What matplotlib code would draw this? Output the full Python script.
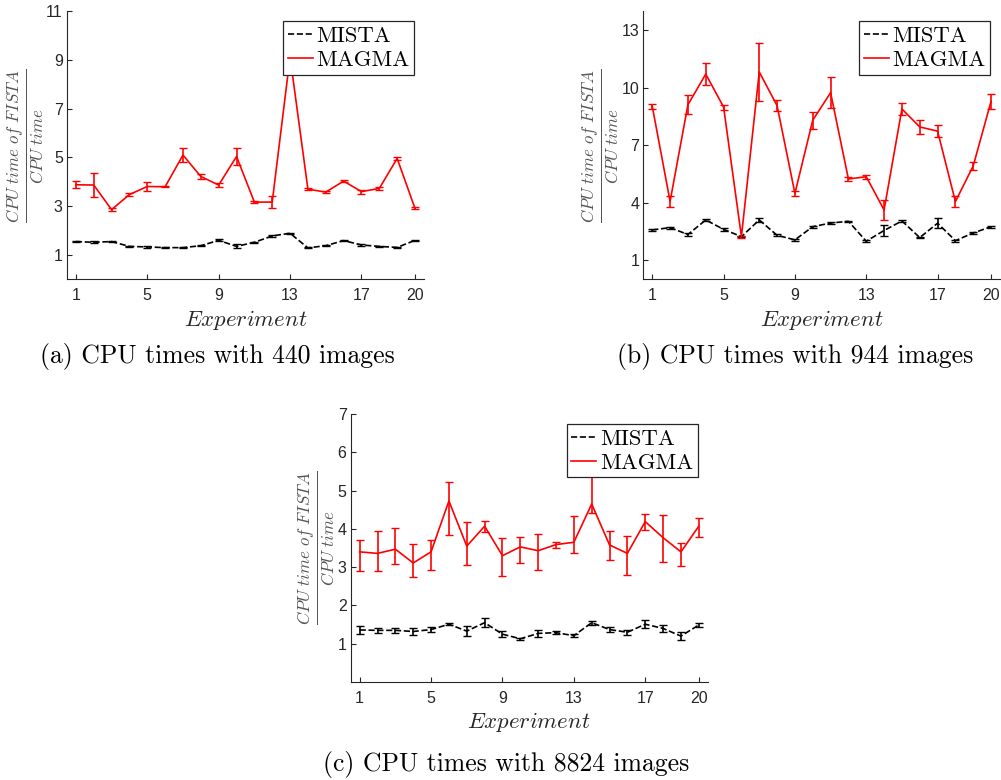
import matplotlib
matplotlib.use("Agg")
import matplotlib.pyplot as plt
from matplotlib.lines import Line2D

plt.rcParams['mathtext.fontset'] = 'cm'
plt.rcParams['font.family'] = ['Liberation Sans', 'DejaVu Sans']

x = list(range(1, 21))
xticks = [1, 5, 9, 13, 17, 20]

# (a) 440 images
mista_a = [1.55, 1.52, 1.55, 1.35, 1.33, 1.30, 1.30, 1.38, 1.60, 1.35,
           1.52, 1.78, 1.89, 1.29, 1.38, 1.59, 1.41, 1.35, 1.31, 1.60]
mista_a_err = [0.03, 0.04, 0.03, 0.03, 0.04, 0.02, 0.02, 0.03, 0.04, 0.08,
               0.03, 0.05, 0.03, 0.02, 0.03, 0.03, 0.03, 0.03, 0.02, 0.03]
magma_a = [3.88, 3.87, 2.86, 3.48, 3.81, 3.80, 5.10, 4.22, 3.87, 5.04,
           3.17, 3.17, 9.13, 3.70, 3.58, 4.03, 3.60, 3.73, 4.96, 2.91]
magma_a_err = [0.15, 0.50, 0.07, 0.07, 0.20, 0.03, 0.30, 0.12, 0.10, 0.34,
               0.03, 0.23, 0.13, 0.04, 0.05, 0.05, 0.08, 0.06, 0.05, 0.04]

# (b) 944 images
mista_b = [2.58, 2.70, 2.34, 3.10, 2.61, 2.23, 3.10, 2.30, 2.06, 2.75,
           2.94, 3.03, 1.99, 2.55, 3.05, 2.18, 2.93, 2.02, 2.42, 2.75]
mista_b_err = [0.05, 0.05, 0.08, 0.06, 0.08, 0.04, 0.08, 0.05, 0.04, 0.06,
               0.07, 0.04, 0.06, 0.28, 0.05, 0.04, 0.25, 0.05, 0.06, 0.06]
magma_b = [9.04, 4.07, 9.12, 10.72, 9.00, 2.23, 10.83, 9.07, 4.49, 8.31,
           9.75, 5.24, 5.36, 3.62, 8.90, 7.96, 7.74, 4.06, 5.93, 9.30]
magma_b_err = [0.14, 0.30, 0.50, 0.57, 0.13, 0.05, 1.50, 0.28, 0.12, 0.45,
               0.80, 0.08, 0.10, 0.50, 0.30, 0.35, 0.30, 0.27, 0.22, 0.40]

# (c) 8824 images
mista_c = [1.36, 1.35, 1.35, 1.32, 1.37, 1.51, 1.33, 1.55, 1.25, 1.13,
           1.27, 1.29, 1.21, 1.55, 1.37, 1.30, 1.51, 1.40, 1.20, 1.49]
mista_c_err = [0.10, 0.07, 0.06, 0.08, 0.07, 0.03, 0.13, 0.12, 0.07, 0.03,
               0.10, 0.03, 0.04, 0.05, 0.06, 0.06, 0.10, 0.10, 0.10, 0.05]
magma_c = [3.40, 3.36, 3.47, 3.11, 3.40, 4.73, 3.55, 4.07, 3.30, 3.53,
           3.43, 3.59, 3.65, 4.65, 3.58, 3.36, 4.19, 3.77, 3.40, 4.07]
magma_c_lo = [0.50, 0.46, 0.39, 0.36, 0.47, 0.88, 0.50, 0.14, 0.52, 0.41,
              0.51, 0.08, 0.29, 0.23, 0.39, 0.57, 0.22, 0.63, 0.36, 0.27]
magma_c_hi = [0.30, 0.58, 0.55, 0.49, 0.30, 0.50, 0.63, 0.14, 0.47, 0.27,
              0.44, 0.07, 0.68, 0.98, 0.37, 0.45, 0.19, 0.60, 0.24, 0.21]

panels = [
    ([0.0669, 0.6419, 0.3566, 0.3436], mista_a, mista_a_err, magma_a, magma_a_err,
     [1, 3, 5, 7, 9, 11], 11, "(a) CPU times with 440 images", (217, 357)),
    ([0.6427, 0.6419, 0.3563, 0.3436], mista_b, mista_b_err, magma_b, magma_b_err,
     [1, 4, 7, 10, 13], 14, "(b) CPU times with 944 images", (795, 357)),
    ([0.3504, 0.1256, 0.3566, 0.3436], mista_c, mista_c_err, magma_c, [magma_c_lo, magma_c_hi],
     [1, 2, 3, 4, 5, 6, 7], 7, "(c) CPU times with 8824 images", (506, 764)),
]

fig = plt.figure(figsize=(10.01, 7.8), dpi=100)
grey = '#262626'

handles = [Line2D([], [], color='black', linestyle='--', linewidth=1.2),
           Line2D([], [], color='red', linestyle='-', linewidth=1.2)]

for rect, mi, mi_err, ma, ma_err, yt, ytop, caption, cpos in panels:
    ax = fig.add_axes(rect)
    ax.errorbar(x, mi, yerr=mi_err, color='black', linestyle='--', linewidth=1.2,
                capsize=3, elinewidth=1.2)
    ax.errorbar(x, ma, yerr=ma_err, color='red', linestyle='-', linewidth=1.2,
                capsize=3, elinewidth=1.2)
    ax.set_xlim(0.5, 20.5)
    ax.set_ylim(0, ytop)
    ax.set_xticks(xticks)
    ax.set_yticks(yt)
    for s in ['top', 'right']:
        ax.spines[s].set_visible(False)
    for s in ['left', 'bottom']:
        ax.spines[s].set_color(grey)
        ax.spines[s].set_linewidth(0.8)
    ax.tick_params(direction='in', length=3.5, colors=grey, labelsize=11.5, width=0.8)
    ax.tick_params(axis='x', pad=6.5)
    ax.tick_params(axis='y', pad=3)
    ax.set_xlabel(r'$Experiment$', fontsize=16.4, color=grey, labelpad=3)
    ax.set_ylabel(r'$\frac{CPU\ time\ of\ FISTA}{CPU\ time}$', fontsize=17.5,
                  color='#555555', labelpad=1)
    leg = ax.legend(handles, ['MISTA', 'MAGMA'], loc='upper right',
                    prop={'family': 'cmr10', 'size': 16.3},
                    handlelength=1.1, handletextpad=0.15, borderpad=0.2,
                    labelspacing=0.2, fancybox=False, framealpha=1,
                    borderaxespad=0.45)
    leg.get_frame().set_edgecolor(grey)
    leg.get_frame().set_linewidth(0.9)
    fig.text(cpos[0] / 1001, 1 - cpos[1] / 780, caption, family='cmr10',
             fontsize=18.5, ha='center', va='center')

fig.savefig('out.png', dpi=100)
